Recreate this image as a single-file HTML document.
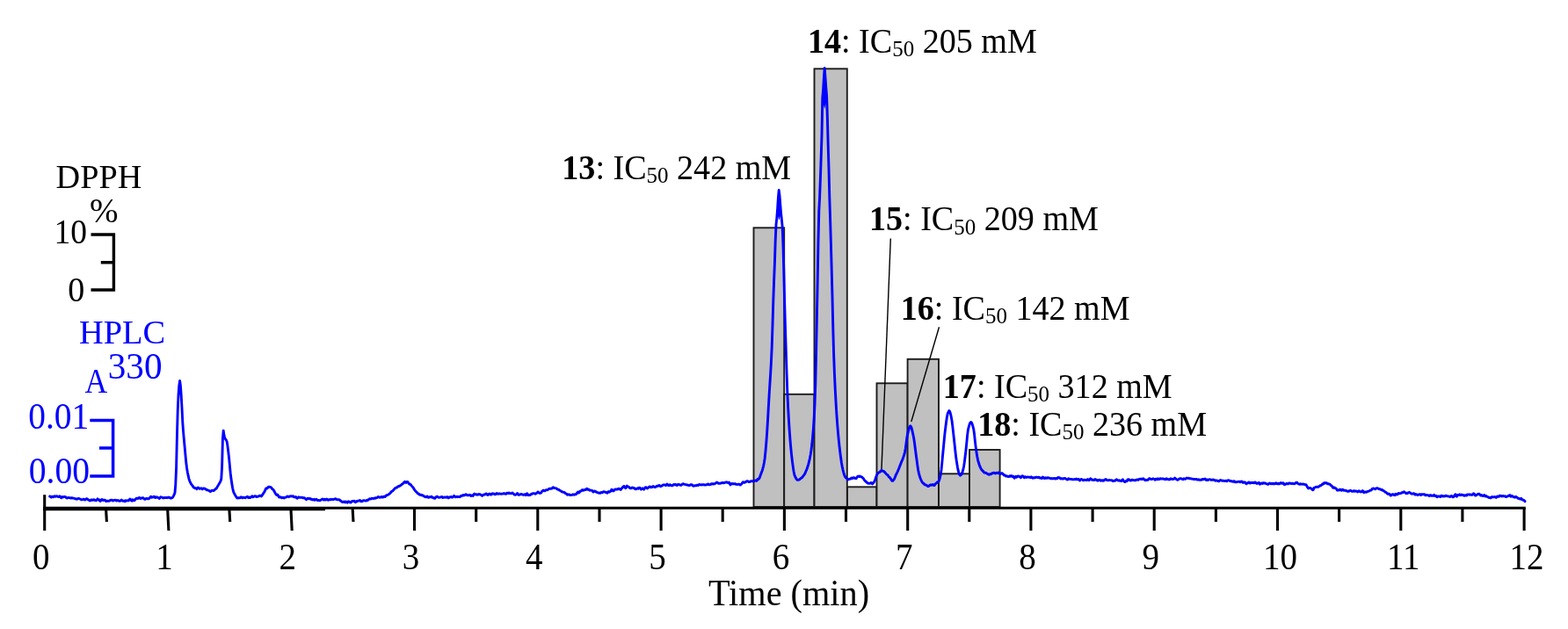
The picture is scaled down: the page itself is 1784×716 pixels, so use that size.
<!DOCTYPE html>
<html lang="en"><head><meta charset="utf-8"><title>HPLC DPPH activity profile</title>
<style>
html,body{margin:0;padding:0;background:#fff;}
body{width:1784px;height:716px;overflow:hidden;}
svg{display:block;}
</style></head><body>
<svg width="1784" height="716" viewBox="0 0 1784 716" role="img" aria-label="HPLC chromatogram with DPPH radical scavenging activity profile">
<rect width="1784" height="716" fill="#fff"/>
<g fill="#c0c0c0" stroke="#1c1c1c" stroke-width="1.9">
<rect x="857.5" y="259.3" width="34.7" height="317.7"/>
<rect x="892.2" y="448.8" width="34.3" height="128.2"/>
<rect x="926.5" y="78.3" width="37.3" height="498.7"/>
<rect x="964.0" y="554.3" width="33.5" height="22.7"/>
<rect x="997.5" y="436.3" width="35.1" height="140.7"/>
<rect x="1032.6" y="408.8" width="35.4" height="168.2"/>
<rect x="1068.0" y="539.3" width="35.0" height="37.7"/>
<rect x="1103.0" y="512.0" width="34.6" height="65.0"/>
</g>
<g stroke="#000" stroke-width="1.4" fill="none">
<line x1="1013.3" y1="271.5" x2="1003" y2="534"/>
<line x1="1068.5" y1="372.3" x2="1036.8" y2="480"/>
</g>
<path d="M56.6 565.0 L57.4 565.2 L58.2 566.1 L59.0 565.3 L59.8 565.4 L60.6 565.8 L61.4 564.9 L62.2 564.8 L63.0 565.3 L63.8 565.0 L64.6 564.7 L65.4 565.1 L66.2 565.5 L67.0 565.6 L67.8 564.8 L68.6 565.3 L69.4 566.6 L70.2 566.8 L71.0 565.6 L71.8 565.9 L72.6 565.6 L73.4 565.4 L74.2 565.6 L75.0 566.1 L75.8 566.9 L76.6 567.0 L77.4 566.6 L78.2 566.4 L79.0 566.6 L79.8 566.8 L80.6 567.1 L81.4 566.7 L82.2 566.8 L83.0 567.0 L83.8 567.1 L84.6 567.3 L85.4 567.6 L86.2 568.0 L87.0 567.9 L87.8 568.2 L88.6 567.6 L89.4 567.4 L90.2 567.7 L91.0 568.0 L91.8 568.3 L92.6 568.9 L93.4 568.9 L94.2 568.5 L95.0 568.1 L95.8 568.4 L96.6 569.1 L97.4 568.5 L98.2 567.7 L99.0 567.8 L99.8 568.4 L100.6 569.1 L101.4 569.2 L102.2 570.0 L103.0 569.6 L103.8 569.0 L104.6 568.9 L105.4 569.4 L106.2 568.9 L107.0 568.7 L107.8 569.3 L108.6 569.5 L109.4 569.8 L110.2 568.9 L111.0 567.9 L111.8 568.9 L112.6 568.7 L113.4 570.1 L114.2 570.5 L115.0 569.3 L115.8 568.5 L116.6 568.6 L117.4 569.6 L118.2 569.4 L119.0 569.1 L119.8 569.6 L120.6 570.6 L121.4 570.2 L122.2 570.1 L123.0 570.3 L123.8 570.4 L124.6 570.2 L125.4 569.4 L126.2 569.3 L127.0 569.1 L127.8 569.4 L128.6 570.1 L129.4 569.6 L130.2 569.4 L131.0 569.2 L131.8 569.4 L132.6 570.0 L133.4 569.6 L134.2 569.5 L135.0 570.0 L135.8 570.3 L136.6 570.3 L137.4 569.7 L138.2 569.0 L139.0 569.9 L139.8 570.3 L140.6 570.3 L141.4 570.0 L142.2 570.8 L143.0 569.7 L143.8 570.0 L144.6 569.8 L145.4 569.6 L146.2 570.0 L147.0 569.2 L147.8 568.1 L148.6 568.5 L149.4 569.8 L150.2 570.2 L151.0 568.8 L151.8 569.0 L152.6 569.8 L153.4 569.3 L154.2 568.3 L155.0 567.4 L155.8 567.1 L156.6 567.5 L157.4 567.4 L158.2 566.5 L159.0 566.7 L159.8 567.5 L160.6 567.3 L161.4 566.9 L162.2 566.8 L163.0 566.8 L163.8 567.7 L164.6 568.3 L165.4 568.3 L166.2 567.5 L167.0 567.3 L167.8 567.7 L168.6 567.8 L169.4 567.6 L170.2 567.0 L171.0 565.8 L171.8 565.3 L172.6 566.2 L173.4 566.1 L174.2 565.8 L175.0 565.3 L175.8 565.4 L176.6 566.6 L177.4 566.3 L178.2 565.7 L179.0 566.2 L179.8 566.5 L180.6 566.9 L181.4 567.5 L182.2 566.4 L183.0 565.7 L183.8 566.1 L184.6 566.2 L185.4 566.7 L186.2 566.8 L187.0 566.7 L187.8 566.4 L188.6 566.6 L189.4 566.5 L190.2 566.7 L191.0 566.3 L191.8 566.0 L192.6 566.5 L193.4 566.5 L194.2 567.2 L195.0 567.0 L195.8 566.7 L196.6 566.0 L197.4 564.6 L198.2 562.9 L199.0 560.8 L199.8 550.8 L200.6 531.7 L201.4 496.7 L202.2 467.7 L203.0 449.7 L203.8 438.9 L204.6 433.4 L205.4 439.1 L206.2 450.6 L207.0 464.7 L207.8 481.0 L208.6 492.0 L209.4 500.9 L210.2 509.4 L211.0 518.4 L211.8 526.8 L212.6 533.0 L213.4 537.7 L214.2 541.7 L215.0 545.1 L215.8 547.5 L216.6 549.3 L217.4 550.7 L218.2 551.9 L219.0 552.9 L219.8 554.1 L220.6 554.9 L221.4 555.5 L222.2 555.5 L223.0 555.8 L223.8 556.6 L224.6 555.5 L225.4 555.0 L226.2 555.6 L227.0 556.3 L227.8 556.1 L228.6 555.8 L229.4 556.0 L230.2 556.9 L231.0 556.2 L231.8 555.9 L232.6 556.3 L233.4 556.3 L234.2 556.9 L235.0 557.8 L235.8 557.7 L236.6 558.0 L237.4 558.3 L238.2 558.8 L239.0 559.5 L239.8 559.3 L240.6 558.6 L241.4 558.2 L242.2 558.4 L243.0 558.6 L243.8 558.0 L244.6 557.2 L245.4 556.4 L246.2 556.1 L247.0 554.6 L247.8 553.2 L248.6 551.9 L249.4 550.5 L250.2 549.2 L251.0 547.6 L251.8 545.0 L252.6 531.1 L253.4 499.7 L254.2 490.1 L255.0 495.6 L255.8 498.8 L256.6 499.9 L257.4 501.0 L258.2 503.1 L259.0 508.1 L259.8 514.5 L260.6 521.6 L261.4 530.3 L262.2 538.7 L263.0 545.0 L263.8 550.5 L264.6 555.3 L265.4 559.0 L266.2 561.3 L267.0 562.6 L267.8 564.0 L268.6 565.4 L269.4 566.5 L270.2 567.1 L271.0 566.6 L271.8 566.7 L272.6 566.9 L273.4 566.5 L274.2 565.7 L275.0 566.1 L275.8 566.8 L276.6 566.1 L277.4 566.4 L278.2 566.5 L279.0 566.7 L279.8 566.2 L280.6 565.9 L281.4 565.3 L282.2 566.2 L283.0 566.6 L283.8 565.9 L284.6 566.5 L285.4 566.0 L286.2 565.4 L287.0 564.7 L287.8 565.8 L288.6 565.4 L289.4 565.0 L290.2 564.6 L291.0 564.9 L291.8 565.6 L292.6 565.2 L293.4 565.3 L294.2 564.9 L295.0 564.6 L295.8 564.1 L296.6 564.5 L297.4 564.9 L298.2 563.8 L299.0 562.7 L299.8 561.4 L300.6 560.2 L301.4 558.7 L302.2 556.7 L303.0 555.8 L303.8 556.1 L304.6 555.2 L305.4 554.3 L306.2 554.2 L307.0 554.4 L307.8 554.4 L308.6 554.9 L309.4 556.3 L310.2 556.9 L311.0 557.5 L311.8 558.8 L312.6 560.3 L313.4 561.7 L314.2 563.0 L315.0 563.6 L315.8 563.0 L316.6 564.3 L317.4 565.8 L318.2 566.1 L319.0 565.7 L319.8 566.1 L320.6 566.8 L321.4 566.4 L322.2 566.3 L323.0 567.0 L323.8 566.4 L324.6 566.3 L325.4 566.0 L326.2 565.6 L327.0 565.0 L327.8 565.1 L328.6 565.7 L329.4 565.0 L330.2 565.0 L331.0 564.7 L331.8 565.0 L332.6 565.0 L333.4 564.7 L334.2 565.7 L335.0 565.8 L335.8 566.0 L336.6 565.6 L337.4 566.5 L338.2 567.3 L339.0 566.4 L339.8 565.8 L340.6 566.3 L341.4 566.4 L342.2 566.3 L343.0 566.3 L343.8 566.4 L344.6 566.8 L345.4 566.6 L346.2 566.7 L347.0 567.4 L347.8 567.8 L348.6 568.7 L349.4 567.8 L350.2 567.2 L351.0 567.5 L351.8 567.9 L352.6 567.5 L353.4 567.6 L354.2 568.6 L355.0 568.2 L355.8 569.0 L356.6 568.6 L357.4 568.3 L358.2 569.3 L359.0 568.7 L359.8 568.2 L360.6 568.8 L361.4 569.6 L362.2 569.5 L363.0 569.7 L363.8 569.9 L364.6 569.3 L365.4 569.0 L366.2 568.4 L367.0 567.9 L367.8 568.6 L368.6 569.2 L369.4 568.2 L370.2 569.0 L371.0 568.8 L371.8 568.1 L372.6 568.7 L373.4 569.3 L374.2 568.6 L375.0 568.9 L375.8 568.9 L376.6 568.2 L377.4 568.6 L378.2 568.6 L379.0 568.3 L379.8 568.5 L380.6 568.2 L381.4 567.8 L382.2 567.9 L383.0 568.6 L383.8 568.7 L384.6 568.7 L385.4 568.6 L386.2 568.8 L387.0 569.6 L387.8 570.4 L388.6 570.6 L389.4 571.5 L390.2 571.5 L391.0 571.1 L391.8 571.0 L392.6 571.9 L393.4 571.0 L394.2 571.6 L395.0 572.2 L395.8 571.3 L396.6 570.8 L397.4 571.2 L398.2 571.9 L399.0 572.1 L399.8 571.4 L400.6 570.5 L401.4 570.5 L402.2 570.7 L403.0 570.2 L403.8 570.8 L404.6 571.7 L405.4 570.7 L406.2 570.9 L407.0 570.2 L407.8 570.1 L408.6 570.0 L409.4 569.5 L410.2 570.1 L411.0 570.9 L411.8 570.8 L412.6 570.3 L413.4 569.6 L414.2 569.6 L415.0 569.9 L415.8 570.1 L416.6 570.0 L417.4 569.2 L418.2 569.7 L419.0 569.0 L419.8 568.3 L420.6 567.8 L421.4 568.0 L422.2 567.8 L423.0 567.2 L423.8 567.4 L424.6 567.5 L425.4 567.3 L426.2 567.3 L427.0 566.7 L427.8 567.0 L428.6 566.7 L429.4 566.3 L430.2 565.4 L431.0 565.9 L431.8 566.2 L432.6 566.2 L433.4 565.6 L434.2 566.0 L435.0 565.4 L435.8 566.0 L436.6 565.6 L437.4 565.1 L438.2 565.5 L439.0 564.2 L439.8 563.8 L440.6 563.7 L441.4 563.3 L442.2 562.7 L443.0 562.3 L443.8 561.5 L444.6 560.5 L445.4 559.5 L446.2 559.1 L447.0 558.7 L447.8 557.6 L448.6 556.9 L449.4 555.7 L450.2 555.3 L451.0 555.0 L451.8 555.1 L452.6 553.8 L453.4 553.5 L454.2 553.5 L455.0 553.0 L455.8 552.4 L456.6 551.9 L457.4 551.2 L458.2 550.7 L459.0 549.9 L459.8 549.1 L460.6 548.3 L461.4 548.9 L462.2 549.4 L463.0 548.5 L463.8 548.4 L464.6 549.5 L465.4 550.7 L466.2 551.2 L467.0 551.3 L467.8 552.4 L468.6 553.4 L469.4 554.3 L470.2 555.1 L471.0 556.7 L471.8 557.8 L472.6 558.8 L473.4 559.6 L474.2 560.3 L475.0 561.5 L475.8 561.9 L476.6 562.3 L477.4 563.2 L478.2 563.2 L479.0 563.2 L479.8 563.9 L480.6 563.7 L481.4 564.1 L482.2 564.8 L483.0 565.3 L483.8 565.7 L484.6 565.9 L485.4 565.1 L486.2 565.0 L487.0 566.2 L487.8 566.4 L488.6 565.8 L489.4 565.9 L490.2 565.5 L491.0 565.2 L491.8 566.3 L492.6 566.4 L493.4 566.6 L494.2 567.3 L495.0 567.2 L495.8 566.0 L496.6 565.3 L497.4 565.1 L498.2 565.9 L499.0 566.2 L499.8 566.4 L500.6 566.2 L501.4 565.8 L502.2 565.6 L503.0 565.5 L503.8 566.5 L504.6 566.2 L505.4 566.2 L506.2 565.9 L507.0 566.1 L507.8 566.3 L508.6 565.8 L509.4 565.8 L510.2 566.9 L511.0 566.2 L511.8 566.0 L512.6 565.6 L513.4 565.5 L514.2 566.2 L515.0 566.0 L515.8 565.3 L516.6 564.3 L517.4 565.2 L518.2 565.8 L519.0 565.5 L519.8 565.3 L520.6 565.7 L521.4 565.5 L522.2 565.5 L523.0 565.7 L523.8 565.3 L524.6 564.3 L525.4 564.5 L526.2 563.9 L527.0 563.4 L527.8 564.0 L528.6 563.5 L529.4 563.4 L530.2 562.7 L531.0 563.2 L531.8 563.8 L532.6 563.9 L533.4 563.6 L534.2 563.3 L535.0 563.6 L535.8 564.5 L536.6 563.9 L537.4 564.0 L538.2 564.4 L539.0 562.8 L539.8 562.1 L540.6 562.7 L541.4 563.0 L542.2 562.8 L543.0 563.2 L543.8 563.1 L544.6 562.5 L545.4 562.9 L546.2 562.6 L547.0 563.3 L547.8 563.7 L548.6 564.4 L549.4 563.8 L550.2 563.0 L551.0 563.1 L551.8 562.8 L552.6 562.2 L553.4 562.0 L554.2 563.2 L555.0 563.5 L555.8 562.5 L556.6 562.2 L557.4 562.3 L558.2 563.1 L559.0 563.0 L559.8 562.0 L560.6 561.8 L561.4 561.9 L562.2 562.3 L563.0 562.8 L563.8 562.7 L564.6 561.9 L565.4 561.5 L566.2 562.2 L567.0 562.3 L567.8 561.9 L568.6 562.0 L569.4 562.2 L570.2 562.4 L571.0 562.1 L571.8 562.1 L572.6 561.8 L573.4 561.5 L574.2 562.0 L575.0 562.2 L575.8 562.2 L576.6 561.3 L577.4 561.3 L578.2 561.6 L579.0 561.0 L579.8 561.5 L580.6 561.6 L581.4 561.7 L582.2 561.5 L583.0 560.9 L583.8 561.8 L584.6 562.4 L585.4 563.1 L586.2 563.3 L587.0 563.0 L587.8 562.5 L588.6 561.5 L589.4 562.6 L590.2 563.4 L591.0 563.3 L591.8 562.9 L592.6 562.5 L593.4 562.5 L594.2 562.9 L595.0 563.2 L595.8 563.3 L596.6 562.8 L597.4 562.6 L598.2 563.6 L599.0 562.4 L599.8 561.7 L600.6 563.4 L601.4 563.8 L602.2 563.4 L603.0 563.5 L603.8 563.0 L604.6 562.3 L605.4 562.2 L606.2 561.7 L607.0 561.6 L607.8 561.6 L608.6 562.1 L609.4 562.2 L610.2 561.5 L611.0 561.2 L611.8 560.0 L612.6 560.2 L613.4 561.1 L614.2 561.4 L615.0 561.3 L615.8 560.7 L616.6 559.3 L617.4 558.8 L618.2 558.1 L619.0 558.7 L619.8 558.8 L620.6 558.2 L621.4 557.6 L622.2 557.9 L623.0 557.7 L623.8 557.1 L624.6 556.4 L625.4 556.3 L626.2 556.2 L627.0 556.2 L627.8 556.1 L628.6 555.4 L629.4 554.7 L630.2 555.2 L631.0 555.6 L631.8 555.6 L632.6 555.8 L633.4 556.1 L634.2 557.1 L635.0 557.2 L635.8 557.4 L636.6 558.1 L637.4 558.5 L638.2 558.8 L639.0 559.6 L639.8 560.0 L640.6 560.2 L641.4 560.4 L642.2 560.5 L643.0 561.4 L643.8 561.9 L644.6 562.2 L645.4 563.2 L646.2 563.1 L647.0 562.7 L647.8 563.1 L648.6 563.6 L649.4 563.6 L650.2 563.4 L651.0 563.4 L651.8 562.8 L652.6 563.0 L653.4 563.2 L654.2 562.7 L655.0 562.8 L655.8 562.4 L656.6 561.1 L657.4 560.1 L658.2 561.0 L659.0 560.8 L659.8 559.3 L660.6 559.2 L661.4 558.8 L662.2 557.7 L663.0 557.8 L663.8 558.3 L664.6 557.8 L665.4 557.5 L666.2 557.6 L667.0 556.6 L667.8 556.2 L668.6 557.3 L669.4 557.0 L670.2 557.4 L671.0 558.2 L671.8 558.1 L672.6 558.1 L673.4 558.1 L674.2 559.2 L675.0 560.0 L675.8 559.1 L676.6 558.9 L677.4 559.7 L678.2 559.8 L679.0 560.3 L679.8 560.6 L680.6 561.0 L681.4 561.0 L682.2 561.3 L683.0 561.4 L683.8 560.5 L684.6 560.7 L685.4 560.7 L686.2 559.9 L687.0 559.7 L687.8 560.0 L688.6 560.1 L689.4 560.6 L690.2 560.7 L691.0 561.2 L691.8 559.8 L692.6 559.5 L693.4 560.1 L694.2 559.4 L695.0 559.2 L695.8 557.2 L696.6 557.6 L697.4 558.9 L698.2 558.9 L699.0 557.9 L699.8 557.0 L700.6 557.0 L701.4 557.2 L702.2 557.0 L703.0 556.8 L703.8 556.1 L704.6 556.4 L705.4 557.0 L706.2 557.4 L707.0 556.4 L707.8 555.5 L708.6 554.5 L709.4 553.6 L710.2 553.4 L711.0 554.8 L711.8 555.7 L712.6 554.3 L713.4 553.1 L714.2 554.0 L715.0 554.2 L715.8 554.5 L716.6 555.6 L717.4 555.8 L718.2 555.7 L719.0 555.0 L719.8 555.2 L720.6 555.2 L721.4 556.0 L722.2 555.8 L723.0 556.7 L723.8 556.7 L724.6 556.3 L725.4 555.8 L726.2 556.2 L727.0 555.3 L727.8 555.2 L728.6 555.9 L729.4 557.1 L730.2 556.4 L731.0 555.8 L731.8 556.5 L732.6 557.1 L733.4 555.9 L734.2 554.8 L735.0 554.7 L735.8 555.4 L736.6 556.0 L737.4 555.2 L738.2 554.6 L739.0 554.0 L739.8 554.0 L740.6 554.9 L741.4 554.7 L742.2 554.2 L743.0 553.5 L743.8 554.0 L744.6 554.2 L745.4 554.6 L746.2 554.2 L747.0 553.4 L747.8 553.3 L748.6 553.2 L749.4 552.7 L750.2 552.4 L751.0 553.3 L751.8 553.8 L752.6 553.0 L753.4 553.0 L754.2 552.2 L755.0 551.9 L755.8 551.9 L756.6 552.0 L757.4 552.6 L758.2 552.2 L759.0 550.9 L759.8 551.9 L760.6 552.5 L761.4 552.7 L762.2 551.7 L763.0 552.0 L763.8 552.7 L764.6 552.8 L765.4 552.7 L766.2 551.7 L767.0 551.5 L767.8 551.9 L768.6 551.4 L769.4 552.1 L770.2 552.6 L771.0 552.1 L771.8 551.3 L772.6 551.5 L773.4 551.9 L774.2 552.3 L775.0 552.3 L775.8 551.7 L776.6 550.9 L777.4 550.8 L778.2 551.2 L779.0 551.4 L779.8 551.6 L780.6 551.6 L781.4 552.0 L782.2 552.0 L783.0 552.4 L783.8 552.5 L784.6 552.5 L785.4 551.9 L786.2 551.6 L787.0 551.7 L787.8 552.4 L788.6 553.1 L789.4 553.2 L790.2 552.8 L791.0 552.6 L791.8 552.9 L792.6 552.4 L793.4 552.1 L794.2 552.6 L795.0 552.1 L795.8 551.5 L796.6 551.9 L797.4 551.8 L798.2 552.0 L799.0 551.7 L799.8 551.7 L800.6 551.6 L801.4 551.8 L802.2 552.1 L803.0 551.9 L803.8 551.8 L804.6 551.8 L805.4 550.9 L806.2 551.3 L807.0 551.9 L807.8 551.7 L808.6 551.4 L809.4 550.7 L810.2 551.0 L811.0 550.6 L811.8 551.0 L812.6 550.8 L813.4 550.6 L814.2 549.8 L815.0 549.5 L815.8 549.0 L816.6 549.8 L817.4 550.3 L818.2 550.2 L819.0 550.4 L819.8 550.1 L820.6 549.8 L821.4 549.7 L822.2 549.4 L823.0 549.8 L823.8 549.7 L824.6 549.5 L825.4 549.2 L826.2 548.9 L827.0 548.8 L827.8 549.4 L828.6 549.7 L829.4 549.0 L830.2 550.3 L831.0 551.9 L831.8 550.9 L832.6 550.4 L833.4 550.7 L834.2 550.6 L835.0 550.8 L835.8 550.8 L836.6 550.6 L837.4 551.4 L838.2 551.4 L839.0 551.5 L839.8 551.2 L840.6 551.2 L841.4 551.2 L842.2 552.1 L843.0 551.5 L843.8 550.8 L844.6 549.7 L845.4 548.7 L846.2 549.0 L847.0 549.4 L847.8 549.0 L848.6 548.4 L849.4 547.9 L850.2 547.6 L851.0 547.9 L851.8 548.5 L852.6 548.6 L853.4 548.3 L854.2 547.8 L855.0 547.8 L855.8 547.7 L856.6 547.7 L857.4 547.7 L858.2 547.5 L859.0 547.0 L859.8 547.0 L860.6 547.5 L861.4 546.8 L862.2 545.3 L863.0 545.5 L863.8 544.6 L864.6 542.8 L865.4 540.4 L866.2 538.3 L867.0 536.2 L867.8 533.7 L868.6 530.6 L869.4 526.8 L870.2 521.5 L871.0 513.7 L871.8 504.3 L872.6 493.7 L873.4 480.7 L874.2 466.3 L875.0 452.0 L875.8 439.0 L876.6 426.4 L877.4 412.5 L878.2 395.1 L879.0 370.1 L879.8 342.7 L880.6 320.1 L881.4 300.0 L882.2 274.0 L883.0 255.9 L883.8 248.3 L884.6 238.2 L885.4 225.2 L886.2 216.5 L887.0 222.6 L887.8 233.0 L888.6 243.0 L889.4 250.1 L890.2 258.7 L891.0 278.9 L891.8 308.1 L892.6 342.0 L893.4 370.5 L894.2 396.8 L895.0 422.6 L895.8 445.6 L896.6 462.8 L897.4 477.3 L898.2 489.9 L899.0 500.6 L899.8 510.0 L900.6 518.1 L901.4 524.9 L902.2 530.9 L903.0 536.3 L903.8 540.2 L904.6 542.4 L905.4 544.1 L906.2 545.4 L907.0 546.3 L907.8 546.1 L908.6 546.2 L909.4 546.0 L910.2 545.3 L911.0 544.7 L911.8 544.1 L912.6 543.5 L913.4 542.6 L914.2 541.3 L915.0 540.3 L915.8 539.2 L916.6 537.3 L917.4 535.3 L918.2 533.5 L919.0 531.0 L919.8 528.3 L920.6 525.2 L921.4 521.7 L922.2 517.4 L923.0 512.3 L923.8 505.8 L924.6 497.7 L925.4 488.0 L926.2 476.1 L927.0 460.3 L927.8 436.5 L928.6 400.0 L929.4 360.7 L930.2 319.5 L931.0 274.0 L931.8 240.0 L932.6 225.0 L933.4 203.5 L934.2 179.1 L935.0 154.0 L935.8 111.4 L936.6 102.0 L937.4 88.4 L938.2 77.4 L939.0 88.6 L939.8 99.9 L940.6 109.2 L941.4 134.5 L942.2 165.7 L943.0 192.7 L943.8 225.0 L944.6 249.8 L945.4 277.5 L946.2 307.1 L947.0 338.1 L947.8 373.3 L948.6 403.0 L949.4 424.5 L950.2 442.2 L951.0 457.2 L951.8 470.3 L952.6 481.7 L953.4 491.5 L954.2 500.2 L955.0 507.9 L955.8 514.6 L956.6 520.8 L957.4 526.5 L958.2 531.1 L959.0 534.8 L959.8 537.9 L960.6 540.7 L961.4 542.5 L962.2 543.5 L963.0 544.1 L963.8 545.1 L964.6 546.2 L965.4 545.6 L966.2 545.3 L967.0 545.3 L967.8 545.0 L968.6 544.1 L969.4 544.8 L970.2 544.0 L971.0 543.6 L971.8 544.2 L972.6 544.0 L973.4 544.6 L974.2 544.6 L975.0 543.5 L975.8 542.3 L976.6 542.2 L977.4 542.5 L978.2 542.0 L979.0 542.6 L979.8 542.8 L980.6 542.9 L981.4 543.9 L982.2 544.4 L983.0 545.8 L983.8 547.0 L984.6 547.8 L985.4 548.3 L986.2 549.2 L987.0 549.9 L987.8 550.3 L988.6 550.3 L989.4 550.4 L990.2 549.9 L991.0 549.4 L991.8 550.2 L992.6 550.9 L993.4 549.9 L994.2 549.0 L995.0 547.6 L995.8 545.8 L996.6 543.3 L997.4 541.3 L998.2 539.7 L999.0 538.6 L999.8 537.9 L1000.6 537.7 L1001.4 537.1 L1002.2 535.9 L1003.0 535.3 L1003.8 536.1 L1004.6 536.2 L1005.4 536.4 L1006.2 537.1 L1007.0 537.8 L1007.8 539.0 L1008.6 539.8 L1009.4 540.4 L1010.2 541.0 L1011.0 542.3 L1011.8 543.3 L1012.6 543.8 L1013.4 545.1 L1014.2 546.3 L1015.0 547.3 L1015.8 547.3 L1016.6 546.3 L1017.4 545.3 L1018.2 543.5 L1019.0 541.4 L1019.8 539.6 L1020.6 538.2 L1021.4 536.5 L1022.2 534.5 L1023.0 532.6 L1023.8 530.5 L1024.6 528.4 L1025.4 526.4 L1026.2 524.5 L1027.0 522.6 L1027.8 520.4 L1028.6 518.0 L1029.4 515.1 L1030.2 511.0 L1031.0 504.9 L1031.8 498.8 L1032.6 494.3 L1033.4 490.9 L1034.2 487.9 L1035.0 485.7 L1035.8 484.9 L1036.6 485.7 L1037.4 488.3 L1038.2 491.6 L1039.0 495.3 L1039.8 499.4 L1040.6 505.0 L1041.4 511.3 L1042.2 517.5 L1043.0 523.3 L1043.8 529.4 L1044.6 534.8 L1045.4 538.6 L1046.2 541.5 L1047.0 544.0 L1047.8 546.0 L1048.6 547.7 L1049.4 549.1 L1050.2 550.0 L1051.0 550.2 L1051.8 551.4 L1052.6 551.9 L1053.4 552.0 L1054.2 552.4 L1055.0 552.9 L1055.8 553.6 L1056.6 553.5 L1057.4 552.8 L1058.2 551.9 L1059.0 551.9 L1059.8 552.3 L1060.6 551.9 L1061.4 551.4 L1062.2 552.4 L1063.0 552.6 L1063.8 551.4 L1064.6 550.5 L1065.4 550.0 L1066.2 549.1 L1067.0 548.6 L1067.8 548.4 L1068.6 546.7 L1069.4 543.9 L1070.2 540.1 L1071.0 535.0 L1071.8 526.9 L1072.6 518.2 L1073.4 509.8 L1074.2 501.2 L1075.0 493.2 L1075.8 486.5 L1076.6 480.2 L1077.4 474.7 L1078.2 470.9 L1079.0 469.0 L1079.8 467.6 L1080.6 468.4 L1081.4 470.8 L1082.2 474.3 L1083.0 478.7 L1083.8 485.1 L1084.6 492.4 L1085.4 499.5 L1086.2 506.9 L1087.0 514.5 L1087.8 521.3 L1088.6 526.6 L1089.4 531.5 L1090.2 535.7 L1091.0 538.7 L1091.8 540.3 L1092.6 541.2 L1093.4 540.5 L1094.2 539.8 L1095.0 537.6 L1095.8 534.7 L1096.6 531.0 L1097.4 525.6 L1098.2 519.0 L1099.0 512.3 L1099.8 504.3 L1100.6 495.7 L1101.4 489.4 L1102.2 486.1 L1103.0 483.3 L1103.8 481.3 L1104.6 480.5 L1105.4 481.0 L1106.2 482.8 L1107.0 485.6 L1107.8 488.9 L1108.6 494.6 L1109.4 502.3 L1110.2 509.1 L1111.0 514.7 L1111.8 519.8 L1112.6 523.8 L1113.4 526.5 L1114.2 529.0 L1115.0 531.2 L1115.8 532.9 L1116.6 534.2 L1117.4 535.5 L1118.2 535.9 L1119.0 537.1 L1119.8 538.0 L1120.6 538.0 L1121.4 538.2 L1122.2 538.6 L1123.0 539.2 L1123.8 539.5 L1124.6 540.0 L1125.4 540.3 L1126.2 539.7 L1127.0 539.8 L1127.8 539.7 L1128.6 538.7 L1129.4 538.8 L1130.2 538.3 L1131.0 538.3 L1131.8 538.4 L1132.6 539.0 L1133.4 538.3 L1134.2 538.1 L1135.0 538.6 L1135.8 538.2 L1136.6 537.9 L1137.4 539.1 L1138.2 539.5 L1139.0 538.9 L1139.8 538.6 L1140.6 539.1 L1141.4 539.8 L1142.2 541.0 L1143.0 540.7 L1143.8 541.4 L1144.6 542.0 L1145.4 541.8 L1146.2 542.1 L1147.0 542.7 L1147.8 542.5 L1148.6 541.8 L1149.4 542.3 L1150.2 541.4 L1151.0 542.0 L1151.8 542.6 L1152.6 542.0 L1153.4 543.3 L1154.2 544.1 L1155.0 542.8 L1155.8 542.2 L1156.6 543.3 L1157.4 542.5 L1158.2 541.9 L1159.0 542.1 L1159.8 542.4 L1160.6 542.9 L1161.4 543.8 L1162.2 542.6 L1163.0 541.8 L1163.8 541.9 L1164.6 542.9 L1165.4 543.7 L1166.2 542.7 L1167.0 543.0 L1167.8 543.5 L1168.6 543.2 L1169.4 543.0 L1170.2 543.1 L1171.0 543.3 L1171.8 543.3 L1172.6 543.7 L1173.4 542.9 L1174.2 543.8 L1175.0 544.2 L1175.8 543.7 L1176.6 543.6 L1177.4 544.0 L1178.2 543.3 L1179.0 543.2 L1179.8 543.3 L1180.6 543.6 L1181.4 543.2 L1182.2 543.4 L1183.0 544.1 L1183.8 544.0 L1184.6 544.3 L1185.4 544.5 L1186.2 543.1 L1187.0 543.4 L1187.8 544.2 L1188.6 544.6 L1189.4 543.8 L1190.2 544.0 L1191.0 544.3 L1191.8 543.7 L1192.6 543.8 L1193.4 544.1 L1194.2 544.1 L1195.0 544.7 L1195.8 544.9 L1196.6 544.5 L1197.4 544.8 L1198.2 544.8 L1199.0 544.5 L1199.8 544.4 L1200.6 545.1 L1201.4 544.4 L1202.2 544.7 L1203.0 544.7 L1203.8 543.4 L1204.6 543.6 L1205.4 543.6 L1206.2 544.5 L1207.0 545.0 L1207.8 544.6 L1208.6 544.9 L1209.4 545.2 L1210.2 544.6 L1211.0 544.5 L1211.8 544.5 L1212.6 545.1 L1213.4 545.3 L1214.2 546.0 L1215.0 545.8 L1215.8 544.7 L1216.6 545.1 L1217.4 545.4 L1218.2 545.4 L1219.0 545.5 L1219.8 545.4 L1220.6 545.9 L1221.4 545.9 L1222.2 545.6 L1223.0 545.4 L1223.8 545.7 L1224.6 545.1 L1225.4 545.9 L1226.2 545.9 L1227.0 545.3 L1227.8 546.1 L1228.6 546.9 L1229.4 546.0 L1230.2 545.4 L1231.0 545.8 L1231.8 546.4 L1232.6 546.8 L1233.4 546.2 L1234.2 546.3 L1235.0 546.4 L1235.8 546.6 L1236.6 546.2 L1237.4 545.6 L1238.2 546.4 L1239.0 546.7 L1239.8 545.8 L1240.6 544.8 L1241.4 545.3 L1242.2 546.1 L1243.0 546.4 L1243.8 546.2 L1244.6 546.6 L1245.4 545.9 L1246.2 545.5 L1247.0 546.2 L1247.8 546.3 L1248.6 547.1 L1249.4 547.1 L1250.2 546.3 L1251.0 546.1 L1251.8 546.7 L1252.6 547.2 L1253.4 546.8 L1254.2 546.7 L1255.0 547.3 L1255.8 547.1 L1256.6 546.3 L1257.4 545.9 L1258.2 545.5 L1259.0 546.2 L1259.8 546.7 L1260.6 546.9 L1261.4 546.6 L1262.2 546.5 L1263.0 546.6 L1263.8 546.6 L1264.6 546.7 L1265.4 546.9 L1266.2 547.6 L1267.0 547.3 L1267.8 547.4 L1268.6 547.3 L1269.4 546.4 L1270.2 545.8 L1271.0 546.3 L1271.8 546.9 L1272.6 547.0 L1273.4 546.7 L1274.2 547.4 L1275.0 547.4 L1275.8 547.5 L1276.6 546.5 L1277.4 545.8 L1278.2 547.2 L1279.0 548.0 L1279.8 548.6 L1280.6 547.8 L1281.4 547.7 L1282.2 547.7 L1283.0 545.8 L1283.8 545.6 L1284.6 545.9 L1285.4 546.9 L1286.2 547.0 L1287.0 546.9 L1287.8 546.1 L1288.6 546.2 L1289.4 546.6 L1290.2 546.6 L1291.0 546.7 L1291.8 547.0 L1292.6 546.3 L1293.4 546.0 L1294.2 546.2 L1295.0 546.4 L1295.8 545.7 L1296.6 545.4 L1297.4 545.2 L1298.2 545.1 L1299.0 545.6 L1299.8 545.3 L1300.6 544.7 L1301.4 545.3 L1302.2 546.1 L1303.0 546.7 L1303.8 546.3 L1304.6 546.5 L1305.4 546.3 L1306.2 546.2 L1307.0 545.0 L1307.8 544.6 L1308.6 545.1 L1309.4 545.3 L1310.2 545.5 L1311.0 545.4 L1311.8 544.8 L1312.6 545.1 L1313.4 545.3 L1314.2 546.1 L1315.0 545.3 L1315.8 545.2 L1316.6 545.7 L1317.4 544.9 L1318.2 545.7 L1319.0 545.5 L1319.8 544.8 L1320.6 544.8 L1321.4 545.1 L1322.2 545.1 L1323.0 544.8 L1323.8 545.2 L1324.6 545.5 L1325.4 545.4 L1326.2 545.7 L1327.0 544.8 L1327.8 545.1 L1328.6 545.6 L1329.4 545.7 L1330.2 546.0 L1331.0 545.6 L1331.8 544.8 L1332.6 545.4 L1333.4 545.1 L1334.2 545.5 L1335.0 545.4 L1335.8 545.2 L1336.6 544.1 L1337.4 544.9 L1338.2 545.3 L1339.0 546.0 L1339.8 546.3 L1340.6 546.0 L1341.4 545.2 L1342.2 544.8 L1343.0 544.5 L1343.8 544.8 L1344.6 545.1 L1345.4 545.5 L1346.2 545.7 L1347.0 544.8 L1347.8 545.0 L1348.6 545.3 L1349.4 544.7 L1350.2 544.0 L1351.0 544.4 L1351.8 544.4 L1352.6 544.3 L1353.4 544.8 L1354.2 544.8 L1355.0 544.8 L1355.8 545.0 L1356.6 545.1 L1357.4 545.4 L1358.2 545.5 L1359.0 545.4 L1359.8 545.5 L1360.6 545.6 L1361.4 545.4 L1362.2 546.0 L1363.0 546.2 L1363.8 545.8 L1364.6 546.2 L1365.4 546.1 L1366.2 546.2 L1367.0 546.3 L1367.8 545.4 L1368.6 545.8 L1369.4 545.5 L1370.2 545.4 L1371.0 544.9 L1371.8 546.1 L1372.6 546.5 L1373.4 545.9 L1374.2 546.6 L1375.0 546.0 L1375.8 545.8 L1376.6 545.6 L1377.4 546.2 L1378.2 546.1 L1379.0 546.2 L1379.8 546.2 L1380.6 546.0 L1381.4 546.5 L1382.2 546.7 L1383.0 547.2 L1383.8 546.9 L1384.6 547.0 L1385.4 547.3 L1386.2 547.8 L1387.0 547.8 L1387.8 547.0 L1388.6 546.5 L1389.4 546.8 L1390.2 547.0 L1391.0 547.4 L1391.8 547.2 L1392.6 547.4 L1393.4 547.5 L1394.2 547.4 L1395.0 547.2 L1395.8 547.8 L1396.6 547.2 L1397.4 546.6 L1398.2 546.9 L1399.0 547.3 L1399.8 547.5 L1400.6 547.8 L1401.4 547.7 L1402.2 548.1 L1403.0 548.3 L1403.8 547.6 L1404.6 547.8 L1405.4 548.9 L1406.2 548.9 L1407.0 548.8 L1407.8 548.4 L1408.6 548.4 L1409.4 548.3 L1410.2 548.3 L1411.0 548.8 L1411.8 548.1 L1412.6 548.0 L1413.4 548.4 L1414.2 549.4 L1415.0 549.0 L1415.8 549.2 L1416.6 548.9 L1417.4 550.3 L1418.2 550.8 L1419.0 549.9 L1419.8 549.8 L1420.6 548.9 L1421.4 549.2 L1422.2 550.1 L1423.0 549.7 L1423.8 549.4 L1424.6 549.5 L1425.4 549.3 L1426.2 549.5 L1427.0 549.8 L1427.8 548.9 L1428.6 549.3 L1429.4 550.0 L1430.2 550.5 L1431.0 550.2 L1431.8 549.5 L1432.6 549.4 L1433.4 551.2 L1434.2 550.5 L1435.0 550.3 L1435.8 549.9 L1436.6 550.4 L1437.4 549.7 L1438.2 549.9 L1439.0 550.2 L1439.8 550.0 L1440.6 550.7 L1441.4 550.9 L1442.2 551.3 L1443.0 551.2 L1443.8 550.4 L1444.6 549.9 L1445.4 550.5 L1446.2 550.9 L1447.0 550.3 L1447.8 550.7 L1448.6 550.2 L1449.4 550.8 L1450.2 550.9 L1451.0 550.1 L1451.8 549.8 L1452.6 550.6 L1453.4 550.8 L1454.2 550.2 L1455.0 550.8 L1455.8 550.7 L1456.6 549.8 L1457.4 549.5 L1458.2 550.3 L1459.0 550.2 L1459.8 549.7 L1460.6 550.3 L1461.4 551.7 L1462.2 551.4 L1463.0 550.9 L1463.8 550.3 L1464.6 550.7 L1465.4 551.0 L1466.2 550.2 L1467.0 550.0 L1467.8 550.2 L1468.6 550.3 L1469.4 550.6 L1470.2 550.2 L1471.0 550.5 L1471.8 550.7 L1472.6 550.7 L1473.4 550.4 L1474.2 549.6 L1475.0 549.2 L1475.8 549.3 L1476.6 550.3 L1477.4 550.9 L1478.2 551.1 L1479.0 551.3 L1479.8 550.8 L1480.6 551.1 L1481.4 551.1 L1482.2 551.2 L1483.0 551.0 L1483.8 551.3 L1484.6 551.5 L1485.4 551.6 L1486.2 552.1 L1487.0 553.7 L1487.8 554.8 L1488.6 555.9 L1489.4 555.5 L1490.2 555.5 L1491.0 555.5 L1491.8 556.3 L1492.6 556.4 L1493.4 557.7 L1494.2 557.6 L1495.0 555.4 L1495.8 555.0 L1496.6 554.7 L1497.4 554.4 L1498.2 554.1 L1499.0 554.4 L1499.8 554.4 L1500.6 553.6 L1501.4 553.4 L1502.2 552.7 L1503.0 552.5 L1503.8 552.0 L1504.6 550.9 L1505.4 551.1 L1506.2 549.9 L1507.0 549.6 L1507.8 550.1 L1508.6 549.6 L1509.4 549.7 L1510.2 550.7 L1511.0 550.7 L1511.8 550.8 L1512.6 551.1 L1513.4 551.6 L1514.2 552.6 L1515.0 553.1 L1515.8 553.7 L1516.6 555.2 L1517.4 555.2 L1518.2 554.9 L1519.0 555.7 L1519.8 555.9 L1520.6 556.6 L1521.4 558.0 L1522.2 558.2 L1523.0 557.9 L1523.8 557.8 L1524.6 557.1 L1525.4 557.9 L1526.2 558.2 L1527.0 557.3 L1527.8 557.1 L1528.6 558.1 L1529.4 558.4 L1530.2 558.2 L1531.0 558.3 L1531.8 558.6 L1532.6 559.2 L1533.4 559.4 L1534.2 558.9 L1535.0 559.2 L1535.8 558.6 L1536.6 558.3 L1537.4 558.7 L1538.2 559.3 L1539.0 559.4 L1539.8 558.9 L1540.6 558.7 L1541.4 559.4 L1542.2 559.2 L1543.0 559.0 L1543.8 559.1 L1544.6 560.0 L1545.4 559.2 L1546.2 558.7 L1547.0 559.6 L1547.8 559.7 L1548.6 560.0 L1549.4 559.7 L1550.2 558.6 L1551.0 559.4 L1551.8 560.7 L1552.6 560.2 L1553.4 560.0 L1554.2 560.2 L1555.0 560.1 L1555.8 559.5 L1556.6 559.4 L1557.4 559.2 L1558.2 558.6 L1559.0 558.2 L1559.8 558.1 L1560.6 557.5 L1561.4 556.4 L1562.2 556.0 L1563.0 556.2 L1563.8 556.4 L1564.6 556.8 L1565.4 556.1 L1566.2 555.7 L1567.0 555.6 L1567.8 556.0 L1568.6 556.5 L1569.4 556.8 L1570.2 556.7 L1571.0 557.3 L1571.8 557.7 L1572.6 557.4 L1573.4 558.3 L1574.2 558.6 L1575.0 559.2 L1575.8 559.9 L1576.6 560.4 L1577.4 560.8 L1578.2 561.7 L1579.0 562.4 L1579.8 562.3 L1580.6 562.2 L1581.4 562.9 L1582.2 564.1 L1583.0 563.8 L1583.8 562.9 L1584.6 562.6 L1585.4 563.1 L1586.2 563.5 L1587.0 563.7 L1587.8 562.3 L1588.6 562.6 L1589.4 563.1 L1590.2 562.6 L1591.0 561.5 L1591.8 561.7 L1592.6 561.7 L1593.4 561.6 L1594.2 561.3 L1595.0 560.8 L1595.8 560.9 L1596.6 560.2 L1597.4 559.8 L1598.2 560.2 L1599.0 561.1 L1599.8 561.7 L1600.6 561.3 L1601.4 561.6 L1602.2 560.8 L1603.0 560.5 L1603.8 560.5 L1604.6 561.2 L1605.4 561.8 L1606.2 562.2 L1607.0 562.0 L1607.8 562.0 L1608.6 561.7 L1609.4 562.4 L1610.2 563.2 L1611.0 562.5 L1611.8 562.8 L1612.6 563.5 L1613.4 563.4 L1614.2 562.9 L1615.0 562.6 L1615.8 562.6 L1616.6 563.4 L1617.4 562.6 L1618.2 562.7 L1619.0 562.6 L1619.8 562.7 L1620.6 562.7 L1621.4 563.4 L1622.2 563.9 L1623.0 563.5 L1623.8 563.6 L1624.6 563.7 L1625.4 563.9 L1626.2 564.5 L1627.0 563.6 L1627.8 563.7 L1628.6 564.4 L1629.4 564.3 L1630.2 564.3 L1631.0 564.4 L1631.8 563.4 L1632.6 564.3 L1633.4 564.9 L1634.2 564.5 L1635.0 565.8 L1635.8 565.3 L1636.6 564.9 L1637.4 565.0 L1638.2 565.2 L1639.0 565.6 L1639.8 564.3 L1640.6 564.2 L1641.4 565.0 L1642.2 565.0 L1643.0 564.6 L1643.8 565.0 L1644.6 564.3 L1645.4 564.3 L1646.2 564.6 L1647.0 564.9 L1647.8 564.9 L1648.6 565.2 L1649.4 565.5 L1650.2 565.3 L1651.0 564.5 L1651.8 564.7 L1652.6 565.7 L1653.4 565.7 L1654.2 565.2 L1655.0 563.7 L1655.8 562.7 L1656.6 564.5 L1657.4 565.2 L1658.2 563.5 L1659.0 563.7 L1659.8 563.5 L1660.6 562.7 L1661.4 563.7 L1662.2 563.5 L1663.0 563.0 L1663.8 563.4 L1664.6 563.4 L1665.4 564.1 L1666.2 564.3 L1667.0 563.6 L1667.8 563.9 L1668.6 564.1 L1669.4 562.9 L1670.2 562.9 L1671.0 562.9 L1671.8 563.3 L1672.6 562.9 L1673.4 563.2 L1674.2 563.1 L1675.0 563.3 L1675.8 562.7 L1676.6 561.8 L1677.4 562.2 L1678.2 563.8 L1679.0 564.1 L1679.8 563.3 L1680.6 563.1 L1681.4 562.5 L1682.2 562.3 L1683.0 562.2 L1683.8 563.1 L1684.6 564.0 L1685.4 563.4 L1686.2 564.1 L1687.0 564.5 L1687.8 564.3 L1688.6 563.6 L1689.4 564.1 L1690.2 565.1 L1691.0 564.6 L1691.8 565.2 L1692.6 565.6 L1693.4 566.0 L1694.2 566.5 L1695.0 566.3 L1695.8 566.8 L1696.6 566.6 L1697.4 565.5 L1698.2 565.8 L1699.0 565.9 L1699.8 565.8 L1700.6 565.5 L1701.4 565.8 L1702.2 566.4 L1703.0 565.6 L1703.8 564.9 L1704.6 565.3 L1705.4 565.3 L1706.2 564.3 L1707.0 564.3 L1707.8 564.6 L1708.6 565.0 L1709.4 564.6 L1710.2 564.5 L1711.0 564.9 L1711.8 564.9 L1712.6 564.8 L1713.4 565.6 L1714.2 565.3 L1715.0 565.1 L1715.8 564.6 L1716.6 564.3 L1717.4 563.7 L1718.2 563.7 L1719.0 565.2 L1719.8 565.1 L1720.6 564.6 L1721.4 565.2 L1722.2 565.9 L1723.0 566.0 L1723.8 566.2 L1724.6 565.4 L1725.4 565.8 L1726.2 566.4 L1727.0 567.3 L1727.8 567.3 L1728.6 567.6 L1729.4 568.1 L1730.2 567.8 L1731.0 567.4 L1731.8 568.7 L1732.6 569.1 L1733.4 569.1 L1734.2 569.8 L1735.0 570.6" fill="none" stroke="#0000ff" stroke-width="2.9" stroke-linejoin="round" stroke-linecap="round"/>
<path d="M938.2 76 L936.3 95 L935.4 112 L938.2 124 L941.2 112 L940.2 95 Z M886.3 215.6 L884.8 232 L884.3 243 L886.4 251 L888.6 243 L887.9 232 Z" fill="#0000ff" stroke="none"/>
<g stroke="#000" stroke-width="3.1" fill="none" stroke-linecap="butt">
<line x1="49" y1="578.2" x2="1735.8" y2="578.2" stroke-width="3"/>
<line x1="49" y1="579.7" x2="370" y2="579.7" stroke-width="3.2"/>
<line x1="50.7" y1="563.2" x2="50.7" y2="604"/>
<line x1="120.5" y1="578" x2="121.4" y2="594"/>
<line x1="190.6" y1="578" x2="191.9" y2="604"/>
<line x1="260.8" y1="578" x2="261.7" y2="594"/>
<line x1="330.9" y1="578" x2="332.2" y2="604"/>
<line x1="401.1" y1="578" x2="402.0" y2="594"/>
<line x1="471.5" y1="578" x2="471.5" y2="604"/>
<line x1="541.7" y1="578" x2="541.7" y2="594"/>
<line x1="611.8" y1="578" x2="611.8" y2="604"/>
<line x1="682.0" y1="578" x2="682.0" y2="594"/>
<line x1="752.1" y1="578" x2="752.1" y2="604"/>
<line x1="822.2" y1="578" x2="822.2" y2="594"/>
<line x1="892.4" y1="578" x2="892.4" y2="604"/>
<line x1="962.5" y1="578" x2="962.5" y2="594"/>
<line x1="1032.7" y1="578" x2="1032.7" y2="604"/>
<line x1="1102.8" y1="578" x2="1102.8" y2="594"/>
<line x1="1172.9" y1="578" x2="1172.9" y2="604"/>
<line x1="1243.1" y1="578" x2="1243.1" y2="594"/>
<line x1="1313.2" y1="578" x2="1313.2" y2="604"/>
<line x1="1383.4" y1="578" x2="1383.4" y2="594"/>
<line x1="1453.5" y1="578" x2="1453.5" y2="604"/>
<line x1="1523.6" y1="578" x2="1523.6" y2="594"/>
<line x1="1593.8" y1="578" x2="1593.8" y2="604"/>
<line x1="1663.9" y1="578" x2="1663.9" y2="594"/>
<line x1="1734.1" y1="578" x2="1734.1" y2="604"/>
</g>
<path d="M103.5 267 H129.4 V330 H103.5 M114.8 298.7 H129.4" fill="none" stroke="#000" stroke-width="3.4" stroke-linejoin="miter"/>
<path d="M102.3 478.5 H128.6 V542 H102.3 M113 510 H128.6" fill="none" stroke="#0000ff" stroke-width="3.5" stroke-linejoin="miter"/>
<g font-family="'Liberation Serif', 'Times New Roman', serif" font-size="39" fill="#000">
<text transform="translate(46.7 647.9) scale(1.000 1.070)" text-anchor="middle">0</text>
<text transform="translate(187.0 647.9) scale(1.000 1.070)" text-anchor="middle">1</text>
<text transform="translate(327.3 647.9) scale(1.000 1.070)" text-anchor="middle">2</text>
<text transform="translate(467.5 647.9) scale(1.000 1.070)" text-anchor="middle">3</text>
<text transform="translate(607.8 647.9) scale(1.000 1.070)" text-anchor="middle">4</text>
<text transform="translate(748.1 647.9) scale(1.000 1.070)" text-anchor="middle">5</text>
<text transform="translate(888.4 647.9) scale(1.000 1.070)" text-anchor="middle">6</text>
<text transform="translate(1028.7 647.9) scale(1.000 1.070)" text-anchor="middle">7</text>
<text transform="translate(1168.9 647.9) scale(1.000 1.070)" text-anchor="middle">8</text>
<text transform="translate(1309.2 647.9) scale(1.000 1.070)" text-anchor="middle">9</text>
<text transform="translate(1456.5 647.9) scale(1.000 1.070)" text-anchor="middle">10</text>
<text transform="translate(1596.8 647.9) scale(1.000 1.070)" text-anchor="middle">11</text>
<text transform="translate(1737.1 647.9) scale(1.000 1.070)" text-anchor="middle">12</text>
<text transform="translate(897.5 689.3) scale(1.000 1.030)" font-size="40.3" text-anchor="middle">Time (min)</text>
<text x="63.6" y="214.3" font-size="38.2">DPPH</text>
<text transform="translate(102.0 253.3) scale(1.000 1.050)" font-size="39">%</text>
<text transform="translate(61.6 276.8) scale(1.000 1.040)" font-size="37.5">10</text>
<text transform="translate(77.3 343.4) scale(1.000 1.050)" font-size="38">0</text>
<g fill="#0000ff">
<text x="90.0" y="390.6" font-size="38.4">HPLC</text>
<text transform="translate(96.4 447.0) scale(0.890 1.000)" font-size="40">A</text>
<text transform="translate(122.7 430.7) scale(1.000 1.040)" font-size="41.2">330</text>
<text transform="translate(32.2 488.2) scale(1.000 1.060)" font-size="39.4">0.01</text>
<text transform="translate(32.8 550.2) scale(1.000 1.060)" font-size="39.6">0.00</text>
</g>
<text transform="translate(639.3 203.9) scale(1.000 1.030)" font-size="38.1"><tspan font-weight="bold">13</tspan>: IC<tspan font-size="25" dy="4">50</tspan><tspan dy="-4"> 242 mM</tspan></text>
<text transform="translate(918.9 60.2) scale(1.000 1.030)" font-size="38.1"><tspan font-weight="bold">14</tspan>: IC<tspan font-size="25" dy="4">50</tspan><tspan dy="-4"> 205 mM</tspan></text>
<text transform="translate(989.0 262.4) scale(1.000 1.030)" font-size="38.1"><tspan font-weight="bold">15</tspan>: IC<tspan font-size="25" dy="4">50</tspan><tspan dy="-4"> 209 mM</tspan></text>
<text transform="translate(1024.7 363.5) scale(1.000 1.030)" font-size="38.1"><tspan font-weight="bold">16</tspan>: IC<tspan font-size="25" dy="4">50</tspan><tspan dy="-4"> 142 mM</tspan></text>
<text transform="translate(1072.8 453.0) scale(1.000 1.030)" font-size="38.1"><tspan font-weight="bold">17</tspan>: IC<tspan font-size="25" dy="4">50</tspan><tspan dy="-4"> 312 mM</tspan></text>
<text transform="translate(1112.2 496.1) scale(1.000 1.030)" font-size="38.1"><tspan font-weight="bold">18</tspan>: IC<tspan font-size="25" dy="4">50</tspan><tspan dy="-4"> 236 mM</tspan></text>
</g>
</svg>
</body></html>
